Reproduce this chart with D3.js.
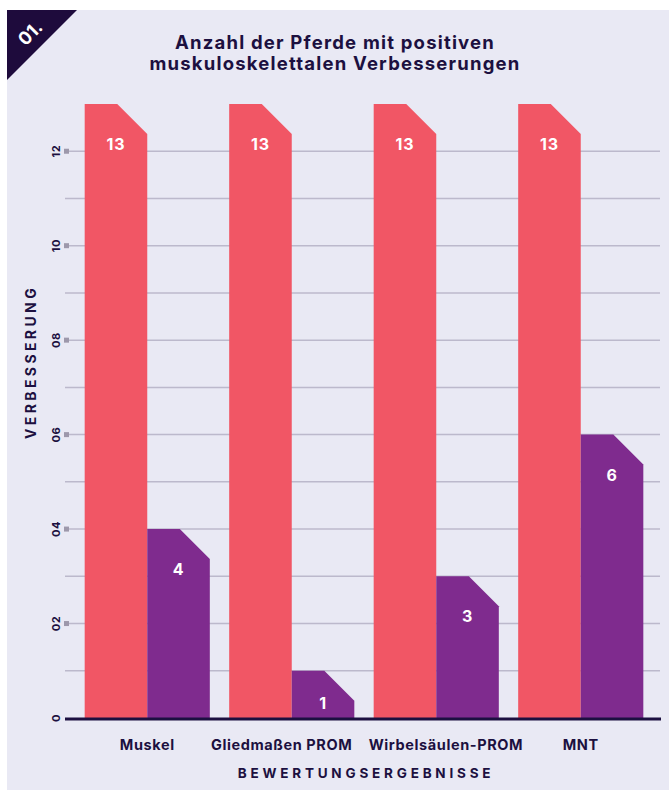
<!DOCTYPE html>
<html>
<head>
<meta charset="utf-8">
<script src="https://cdn.jsdelivr.net/npm/d3@7"></script>
<style>
  html, body { margin: 0; padding: 0; background: #fff; }
  svg { display: block; font-family: Inter, "Open Sans", sans-serif; }
</style>
</head>
<body>
<div id="chart"></div>
<script>
// data
const categories = ["Muskel", "Gliedmaßen PROM", "Wirbelsäulen-PROM", "MNT"];
const seriesA = [13, 13, 13, 13];   // red bars
const seriesB = [4, 1, 3, 6];       // purple bars
const yTicks = [0, 2, 4, 6, 8, 10, 12];
const titleLines = ["Anzahl der Pferde mit positiven", "muskuloskelettalen Verbesserungen"];

const W = 669, H = 790;
const ink = "#1c1040", red = "#f15665", purple = "#7f2b8e";

const svg = d3.select("#chart").append("svg")
  .attr("width", W)
  .attr("height", H);

// panel + corner badge
svg.append("rect")
  .attr("x", 7).attr("y", 10)
  .attr("width", W - 7).attr("height", H - 10)
  .attr("fill", "#e9e9f4");

svg.append("path")
  .attr("d", "M7,10 L77,10 L7,80 Z")
  .attr("fill", "#1e0b3c");

svg.append("text")
  .attr("transform", "translate(30,33) rotate(-45)")
  .attr("text-anchor", "middle")
  .attr("dominant-baseline", "central")
  .attr("fill", "#fff")
  .attr("font-size", 18)
  .attr("font-weight", 700)
  .text("01.");

// title
svg.append("g").selectAll("text")
  .data(titleLines)
  .join("text")
    .attr("x", 335)
    .attr("y", (d, i) => 49 + i * 20.5)
    .attr("text-anchor", "middle")
    .attr("fill", ink)
    .attr("font-size", 18.5)
    .attr("font-weight", 700)
    .attr("letter-spacing", 1.2)
    .text(d => d);

// scales
const x = d3.scaleBand()
  .domain(categories)
  .range([75, 653])
  .paddingInner(0.134)
  .paddingOuter(0.067);

const y = d3.scaleLinear()
  .domain([0, 13])
  .range([718, 104]);

const gridLeft = 65, gridRight = 660;

// gridlines every unit
svg.append("g").selectAll("line")
  .data(d3.range(1, 13))
  .join("line")
    .attr("x1", gridLeft).attr("x2", gridRight)
    .attr("y1", d => y(d)).attr("y2", d => y(d))
    .attr("stroke", "#bcb9cc")
    .attr("stroke-width", 1.5);

// little markers on labelled ticks
svg.append("g").selectAll("rect")
  .data(yTicks.filter(d => d > 0))
  .join("rect")
    .attr("x", 64).attr("y", d => y(d) - 2.5)
    .attr("width", 5).attr("height", 5)
    .attr("fill", "#9d98ab");

// y tick labels, rotated
svg.append("g").selectAll("text")
  .data(yTicks)
  .join("text")
    .attr("transform", d => "translate(56," + y(d) + ") rotate(-90)")
    .attr("text-anchor", "middle")
    .attr("dominant-baseline", "central")
    .attr("fill", ink)
    .attr("font-size", 11)
    .attr("font-weight", 700)
    .attr("letter-spacing", 0.5)
    .text(d => d === 0 ? "0" : String(d).padStart(2, "0"));

// y title
svg.append("text")
  .attr("transform", "translate(30,362) rotate(-90)")
  .attr("text-anchor", "middle")
  .attr("dominant-baseline", "central")
  .attr("fill", ink)
  .attr("font-size", 14)
  .attr("font-weight", 700)
  .attr("letter-spacing", 3.4)
  .text("VERBESSERUNG");

// bars with a clipped top-right corner
const cut = 30;
function barPath(x0, w, v) {
  const top = y(v), bottom = y(0), c = Math.min(cut, bottom - top);
  return "M" + x0 + "," + bottom +
    "L" + x0 + "," + top +
    "L" + (x0 + w - c) + "," + top +
    "L" + (x0 + w) + "," + (top + c) +
    "L" + (x0 + w) + "," + bottom + "Z";
}

const bw = x.bandwidth() / 2;
const bars = categories.flatMap((c, i) => [
  { cat: c, v: seriesA[i], x0: x(c), fill: red },
  { cat: c, v: seriesB[i], x0: x(c) + bw, fill: purple }
]);

svg.append("g").selectAll("path")
  .data(bars)
  .join("path")
    .attr("d", d => barPath(d.x0, bw, d.v))
    .attr("fill", d => d.fill);

svg.append("g").selectAll("text")
  .data(bars)
  .join("text")
    .attr("x", d => d.x0 + bw / 2)
    .attr("y", d => Math.min(y(d.v) + 40, y(0) - 15))
    .attr("text-anchor", "middle")
    .attr("dominant-baseline", "central")
    .attr("fill", "#fff")
    .attr("font-size", 16)
    .attr("font-weight", 700)
    .attr("letter-spacing", 0.8)
    .text(d => d.v);

// baseline
svg.append("line")
  .attr("x1", gridLeft).attr("x2", 661)
  .attr("y1", y(0) + 1).attr("y2", y(0) + 1)
  .attr("stroke", ink)
  .attr("stroke-width", 3);

// category labels - the two long middle ones are pushed apart
const last = categories.length - 1;
svg.append("g").selectAll("text")
  .data(categories)
  .join("text")
    .attr("x", (d, i) => {
      if (i === 1) return x(d) + x.bandwidth() - 2;
      if (i === 2) return x(d) - 5;
      return x(d) + x.bandwidth() / 2;
    })
    .attr("y", 750)
    .attr("text-anchor", (d, i) => i === 1 ? "end" : (i === 2 ? "start" : "middle"))
    .attr("fill", ink)
    .attr("font-size", 14.5)
    .attr("font-weight", 700)
    .attr("letter-spacing", 0.6)
    .text(d => d);

// x title
svg.append("text")
  .attr("x", 366)
  .attr("y", 778)
  .attr("text-anchor", "middle")
  .attr("fill", ink)
  .attr("font-size", 13.5)
  .attr("font-weight", 700)
  .attr("letter-spacing", 3.8)
  .text("BEWERTUNGSERGEBNISSE");
</script>
</body>
</html>
